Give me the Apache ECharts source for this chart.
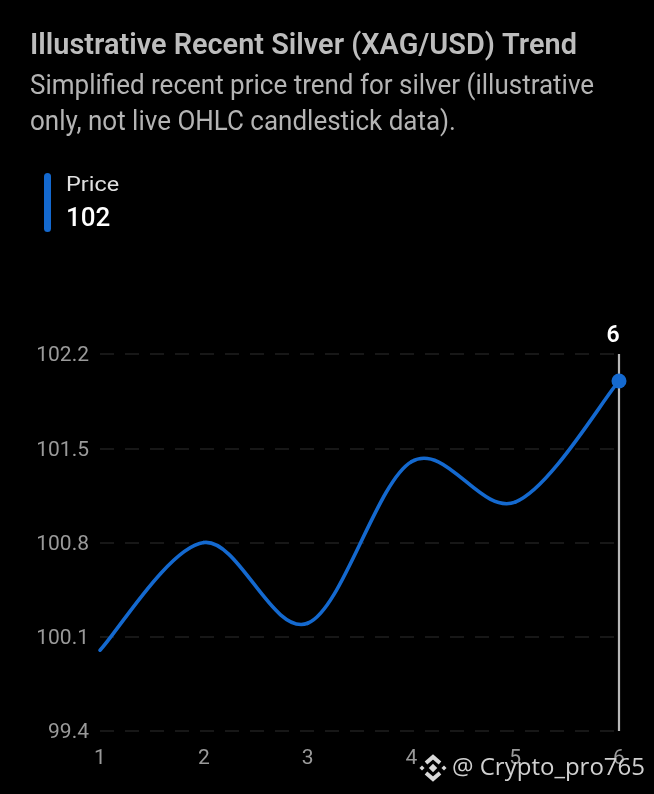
<!DOCTYPE html>
<html>
<head>
<meta charset="utf-8">
<style>html,body{margin:0;padding:0;background:#000}#c{width:654px;height:794px}</style>
<script src="https://cdn.jsdelivr.net/npm/echarts@6/dist/echarts.min.js"></script>
</head>
<body>
<div id="c"></div>
<script>
const categories = ['1','2','3','4','5','6'];
const prices = [100.0, 100.8, 100.2, 101.4, 101.1, 102.0];
const seriesName = 'Price';
const legendValue = '102';
const titleText = 'Illustrative Recent Silver (XAG/USD) Trend';
const subtitleLine1 = 'Simplified recent price trend for silver (illustrative';
const subtitleLine2 = 'only, not live OHLC candlestick data).';
const yMin = 99.4, yMax = 102.2, yStep = 0.7;
const watermark = '@ Crypto_pro765';
const FONT = 'Roboto';
const BLUE = '#1469cf';

function pointAt(api, i){
  const k = Math.max(0, Math.min(prices.length-1, i));
  return api.coord([k, prices[k]]);
}
function renderSegment(params, api){
  const i = params.dataIndex;
  if (i === 0) return {type:'group',children:[]};
  const p0 = pointAt(api,i-2), p1 = pointAt(api,i-1), p2 = pointAt(api,i), p3 = pointAt(api,i+1);
  return {
    type:'bezierCurve',
    shape:{
      x1:p1[0],y1:p1[1],x2:p2[0],y2:p2[1],
      cpx1:p1[0]+(p2[0]-p0[0])/6,cpy1:p1[1]+(p2[1]-p0[1])/6,
      cpx2:p2[0]-(p3[0]-p1[0])/6,cpy2:p2[1]-(p3[1]-p1[1])/6
    },
    style:{stroke:BLUE,lineWidth:3.6,fill:null,lineCap:'round'}
  };
}

const chart = echarts.init(document.getElementById('c'), null, {renderer:'canvas'});
chart.setOption({
  backgroundColor:'#000',
  animation:false,
  textStyle:{fontFamily:FONT},
  grid:{left:100,right:35,top:354,bottom:63,containLabel:false},
  xAxis:{
    type:'category',data:categories,boundaryGap:false,
    axisLine:{show:false},axisTick:{show:false},
    axisLabel:{color:'#9a9a9a',fontSize:21,fontFamily:FONT,margin:17,showMinLabel:true,showMaxLabel:true,alignMinLabel:'center',alignMaxLabel:'center'},
    splitLine:{show:false}
  },
  yAxis:{
    type:'value',min:yMin,max:yMax,interval:yStep,
    axisLine:{show:false},axisTick:{show:false},
    axisLabel:{color:'#9a9a9a',fontSize:21,fontFamily:FONT,margin:11,verticalAlign:'top',lineHeight:4,formatter:v=>v.toFixed(1)},
    splitLine:{lineStyle:{color:'#1f1f1f',width:1.5,type:[14,11]}}
  },
  series:[
    {
      name:seriesName,type:'line',data:prices,
      showSymbol:true,showAllSymbol:true,symbol:'circle',
      symbolSize:(v,p)=>p.dataIndex===prices.length-1?15:0,
      lineStyle:{opacity:0},
      itemStyle:{color:BLUE},
      z:4,
      markLine:{
        silent:true,symbol:'none',animation:false,z:2,
        lineStyle:{color:'#b8b8b8',width:2.2,type:'solid'},
        label:{show:true,position:'end',formatter:categories[categories.length-1],color:'#fff',fontFamily:FONT,fontSize:23,fontWeight:600,distance:6,offset:[-6,0]},
        data:[{xAxis:categories[categories.length-1]}]
      }
    },
    {
      name:seriesName+' curve',type:'custom',coordinateSystem:'cartesian2d',
      data:prices.map((v,i)=>[i,v]),renderItem:renderSegment,clip:false,silent:true,z:3
    }
  ],
  graphic:[
    {type:'text',x:30,y:31,scaleX:0.963,style:{text:titleText,fill:'#bdbdbd',font:'600 30px '+FONT}},
    {type:'text',x:30,y:73,scaleX:0.945,style:{text:subtitleLine1,fill:'#b4b4b4',font:'27.5px '+FONT}},
    {type:'text',x:30,y:109,scaleX:0.945,style:{text:subtitleLine2,fill:'#b4b4b4',font:'27.5px '+FONT}},
    {type:'rect',shape:{x:44,y:173,width:7,height:59,r:3.5},style:{fill:BLUE}},
    {type:'text',x:66,y:176,scaleX:1.17,style:{text:seriesName,fill:'#e0e0e0',font:'20px '+FONT}},
    {type:'text',x:66,y:206,style:{text:legendValue,fill:'#fff',font:'500 26px '+FONT}},
    {type:'group',x:433,y:768,z:50,children:[
      {type:'rect',shape:{x:-3,y:-3,width:6,height:6},rotation:Math.PI/4,style:{fill:'#d8d8d8'}},
      {type:'rect',shape:{x:-3,y:-3,width:6,height:6},x:-11,rotation:Math.PI/4,scaleX:.6,scaleY:.6,style:{fill:'#d8d8d8'}},
      {type:'rect',shape:{x:-3,y:-3,width:6,height:6},x:11,rotation:Math.PI/4,scaleX:.6,scaleY:.6,style:{fill:'#d8d8d8'}},
      {type:'polyline',shape:{points:[[-7,-5],[0,-11],[7,-5]]},style:{stroke:'#d8d8d8',fill:'none',lineWidth:4}},
      {type:'polyline',shape:{points:[[-7,5],[0,11],[7,5]]},style:{stroke:'#d8d8d8',fill:'none',lineWidth:4}}
    ]},
    {type:'text',z:50,x:452,y:756,style:{text:watermark,fill:'#d0d0d0',font:'24px "Open Sans"'}}
  ]
});
</script>
</body>
</html>
